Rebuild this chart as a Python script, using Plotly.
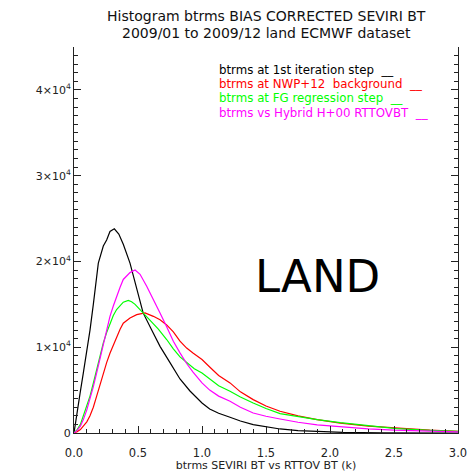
import plotly.graph_objects as go

# btrms bin centres (k) and histogram counts for each configuration
bt_iter1 = [0.0, 0.021, 0.047, 0.073, 0.10, 0.125, 0.151, 0.177, 0.19, 0.229, 0.255, 0.281,
            0.315, 0.35, 0.385, 0.4375, 0.49, 0.54, 0.607, 0.672, 0.75, 0.828, 0.906, 0.958,
            1.0, 1.06, 1.13, 1.219, 1.3, 1.4, 1.5, 1.61, 1.75, 1.9, 2.1, 2.4, 2.7, 3.0]
cnt_iter1 = [0, 2300, 4600, 7000, 9500, 12000, 15000, 18000, 19800, 21800, 22500, 23500,
             23800, 23200, 22000, 19800, 16700, 14000, 12000, 10100, 8200, 6300, 4900, 4100,
             3500, 2800, 2300, 1830, 1400, 970, 700, 470, 270, 150, 70, 20, 0, 0]

bt_nwp = [0.0, 0.025, 0.05, 0.073, 0.10, 0.125, 0.151, 0.177, 0.203, 0.229, 0.255, 0.281,
          0.307, 0.333, 0.36, 0.385, 0.4375, 0.49, 0.555, 0.62, 0.672, 0.724, 0.776, 0.828,
          0.88, 0.932, 1.0, 1.06, 1.13, 1.219, 1.3, 1.4, 1.5, 1.61, 1.75, 1.9, 2.08, 2.3,
          2.52, 2.78, 3.0]
cnt_nwp = [0, 150, 400, 800, 1300, 2000, 3000, 4300, 5600, 7000, 8200, 9300,
           10300, 11300, 12100, 12800, 13400, 13800, 14000, 13600, 13200, 12600, 11800, 10700,
           9900, 9300, 8560, 7700, 6700, 5840, 4800, 3890, 3150, 2530, 2000, 1550, 1150, 800,
           550, 330, 200]

bt_fg = [0.0, 0.025, 0.05, 0.073, 0.10, 0.125, 0.151, 0.177, 0.203, 0.229, 0.255, 0.281,
         0.307, 0.333, 0.36, 0.385, 0.424, 0.45, 0.477, 0.529, 0.594, 0.659, 0.724, 0.776,
         0.828, 0.88, 0.94, 1.0, 1.06, 1.13, 1.219, 1.3, 1.4, 1.5, 1.61, 1.75, 1.9, 2.08,
         2.3, 2.52, 2.78, 3.0]
cnt_fg = [0, 400, 1000, 1950, 3100, 4300, 5800, 7400, 9000, 10500, 11700, 12800,
          13700, 14400, 14900, 15250, 15450, 15300, 15000, 14200, 13200, 12100, 10900, 9800,
          8870, 8200, 7500, 7000, 6300, 5500, 4860, 4200, 3500, 2850, 2260, 1900, 1550, 1200,
          820, 520, 310, 200]

bt_hybrid = [0.0, 0.025, 0.05, 0.073, 0.10, 0.125, 0.151, 0.177, 0.203, 0.229, 0.255, 0.281,
             0.307, 0.333, 0.36, 0.385, 0.4375, 0.477, 0.516, 0.568, 0.62, 0.672, 0.724, 0.776,
             0.828, 0.88, 0.93, 1.0, 1.06, 1.13, 1.219, 1.3, 1.4, 1.5, 1.61, 1.75, 1.9,
             2.08, 2.3, 2.5, 2.75, 3.0]
cnt_hybrid = [0, 300, 800, 1560, 2700, 3900, 5400, 7000, 8600, 10100, 11900, 13600,
              14800, 15950, 17000, 17900, 18700, 19000, 18500, 17100, 15600, 14000, 12400, 10700,
              9340, 8100, 7100, 5840, 5000, 4300, 3700, 3000, 2330, 1950, 1630, 1250, 950,
              700, 480, 330, 200, 120]

series_names = [
    "btrms at 1st iteration step",
    "btrms at NWP+12  background",
    "btrms at FG regression step",
    "btrms vs Hybrid H+00 RTTOVBT",
]
series_colors = ["#000000", "#ff0000", "#00ff00", "#ff00ff"]

x_ticks = [0.0, 0.5, 1.0, 1.5, 2.0, 2.5, 3.0]
y_ticks = [0, 10000, 20000, 30000, 40000]
y_tick_text = ["0", "1×10<sup>4</sup>", "2×10<sup>4</sup>", "3×10<sup>4</sup>", "4×10<sup>4</sup>"]

title_lines = ["Histogram btrms BIAS CORRECTED SEVIRI BT",
               "2009/01 to 2009/12 land ECMWF dataset"]
x_title = "btrms SEVIRI BT vs RTTOV BT (k)"
region_label = "LAND"

FONT = "DejaVu Sans"

# page and plot-area geometry (pixels)
W, H = 469, 472
L, R, T, B = 74, 11, 47, 39
pw, ph = W - L - R, H - T - B


def px(xp):
    return (xp - L) / pw


def py(yp):
    return (H - B - yp) / ph


fig = go.Figure()
for xs, ys, name, col in zip([bt_iter1, bt_nwp, bt_fg, bt_hybrid],
                             [cnt_iter1, cnt_nwp, cnt_fg, cnt_hybrid],
                             series_names, series_colors):
    fig.add_trace(go.Scatter(x=xs, y=ys, mode="lines", name=name,
                             line=dict(color=col, width=1.2), showlegend=False))

# Colour-coded key in the upper right, each entry followed by a short dash
for i, (name, col) in enumerate(zip(series_names, series_colors)):
    fig.add_annotation(text=name + "  __", x=px(217), y=py(70 + 14.2 * i),
                       xref="paper", yref="paper", showarrow=False,
                       font=dict(family=FONT, size=11.8, color=col),
                       xanchor="left", yanchor="middle")

# Two-line heading above the plot area
for line, yp in zip(title_lines, [16.5, 33]):
    fig.add_annotation(text=line, x=px(266), y=py(yp), xref="paper", yref="paper",
                       showarrow=False, font=dict(family=FONT, size=14, color="#111111"),
                       xanchor="center", yanchor="middle")

fig.add_annotation(text=region_label, x=px(317), y=py(276), xref="paper", yref="paper",
                   showarrow=False, font=dict(family=FONT, size=45, color="#000000"),
                   xanchor="center", yanchor="middle")

fig.update_layout(
    width=W, height=H,
    margin=dict(l=L, r=R, t=T, b=B),
    paper_bgcolor="white", plot_bgcolor="white",
    font=dict(family=FONT, size=11, color="#222222"),
    showlegend=False,
)

fig.update_xaxes(
    range=[0, 3.0], showgrid=False, zeroline=False, automargin=False,
    showline=True, linecolor="#222222", linewidth=1, mirror=False,
    tickmode="array", tickvals=x_ticks, ticktext=[f"{v:.1f}" for v in x_ticks],
    ticks="inside", ticklen=7, tickcolor="#222222", tickwidth=1,
    ticklabelstandoff=9,
    minor=dict(dtick=0.1, ticks="inside", ticklen=4, tickcolor="#222222", showgrid=False),
    tickfont=dict(family=FONT, size=11.5, color="#222222"),
    title=dict(text=x_title, font=dict(family=FONT, size=11, color="#222222"), standoff=2),
)
fig.update_yaxes(
    range=[0, 45000], showgrid=False, zeroline=False, automargin=False,
    showline=True, linecolor="#222222", linewidth=1, mirror="ticks",
    tickmode="array", tickvals=y_ticks, ticktext=y_tick_text,
    ticks="inside", ticklen=7, tickcolor="#222222", tickwidth=1,
    minor=dict(dtick=1000, ticks="inside", ticklen=4, tickcolor="#222222", showgrid=False),
    tickfont=dict(family=FONT, size=11, color="#222222"),
)

fig.write_html("out.html")
